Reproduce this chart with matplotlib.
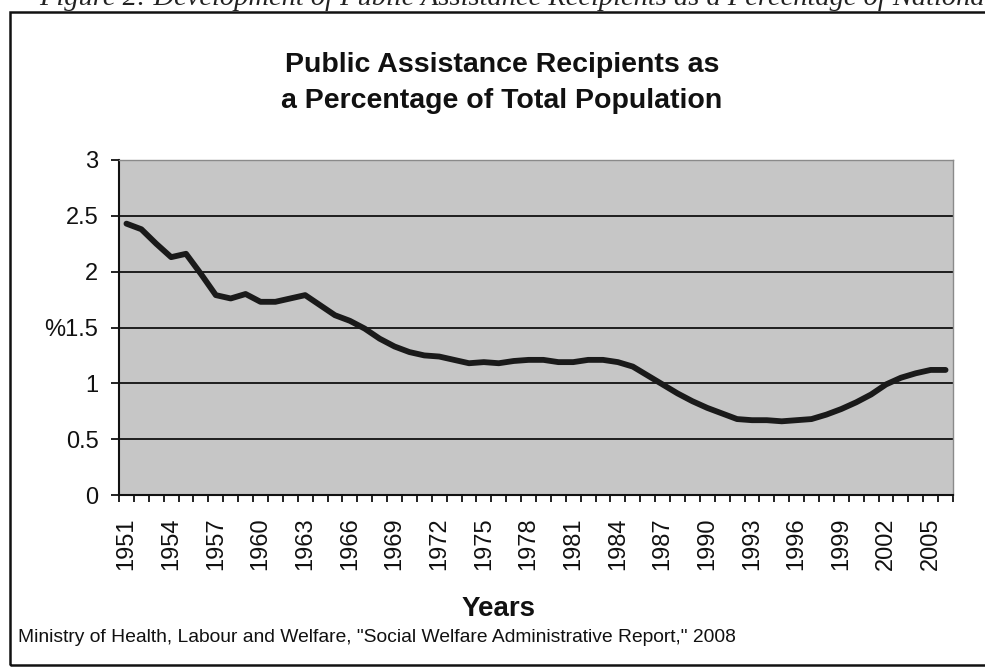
import matplotlib
matplotlib.use("Agg")
import matplotlib.pyplot as plt
from matplotlib.patches import Rectangle
from matplotlib.ticker import FixedLocator, FixedFormatter, NullFormatter
import numpy as np

years = list(range(1951, 2007))
values = [2.43, 2.38, 2.25, 2.13, 2.16, 1.98, 1.79, 1.76, 1.80, 1.73,
          1.73, 1.76, 1.79, 1.70, 1.61, 1.56, 1.49, 1.40, 1.33, 1.28,
          1.25, 1.24, 1.21, 1.18, 1.19, 1.18, 1.20, 1.21, 1.21, 1.19,
          1.19, 1.21, 1.21, 1.19, 1.15, 1.07, 0.99, 0.91, 0.84, 0.78,
          0.73, 0.68, 0.67, 0.67, 0.66, 0.67, 0.68, 0.72, 0.77, 0.83,
          0.90, 0.99, 1.05, 1.09, 1.12, 1.12]
year_labels = [str(y) for y in range(1951, 2007, 3)]
y_ticks = [0, 0.5, 1, 1.5, 2, 2.5, 3]
y_labels = ["0", "0.5", "1", "%1.5", "2", "2.5", "3"]
title = "Public Assistance Recipients as\na Percentage of Total Population"
xlabel = "Years"
source = 'Ministry of Health, Labour and Welfare, "Social Welfare Administrative Report," 2008'
caption = ("Figure 2: Development of Public Assistance Recipients "
           "as a Percentage of National Population")
caption_visible_end = "Nationa"

plt.rcParams['font.family'] = ['Liberation Sans', 'DejaVu Sans']

W, H = 985, 671
fig = plt.figure(figsize=(W / 100, H / 100), dpi=100)
fig.patch.set_facecolor("white")

# outer frame
fig.patches.append(Rectangle((10 / W, 1 - 665 / H), 1.2, (665 - 12) / H,
                             transform=fig.transFigure, fill=False,
                             edgecolor="#111111", linewidth=1.8))

# partially cut caption at the top (only its lower part shows, as in the scan)
cap_kw = dict(fontsize=20.5, style="italic",
              family=["Liberation Serif", "DejaVu Serif"], color="#222222")
renderer = fig.canvas.get_renderer()
prefix = caption[:caption.index(caption_visible_end) + len(caption_visible_end)]
tmp = fig.text(0, 0, prefix, **cap_kw)
pw = tmp.get_window_extent(renderer).width
tmp.remove()
fig.text((W - pw) / W, 1 - 5 / H, caption, ha="left", va="baseline", **cap_kw)

ax = fig.add_axes([119 / W, 1 - 495 / H, (953 - 119) / W, (495 - 160) / H])
ax.set_facecolor("#c6c6c6")

n = len(years)
x = np.arange(n)
ax.plot(x, values, color="#1a1a1a", linewidth=4.2, solid_capstyle="round",
        solid_joinstyle="round", zorder=3)

ax.set_xlim(-0.5, n - 0.5)
ax.set_ylim(0, 3)

# gridlines
for yv in y_ticks[1:-1]:
    ax.axhline(yv, color="#111111", linewidth=1.3, zorder=2)

ax.yaxis.set_major_locator(FixedLocator(y_ticks))
ax.yaxis.set_major_formatter(FixedFormatter(y_labels))
ax.tick_params(axis="y", direction="out", length=5.8, width=1.3,
               labelsize=17, pad=9, colors="#111111")

# x ticks: marks between categories, labels every 3 categories
ax.xaxis.set_major_locator(FixedLocator(np.arange(-0.5, n, 1.0)))
ax.xaxis.set_major_formatter(NullFormatter())
ax.tick_params(axis="x", which="major", direction="out", length=5, width=1.3,
               colors="#111111")
ax.xaxis.set_minor_locator(FixedLocator(np.arange(0, n, 3)))
ax.xaxis.set_minor_formatter(FixedFormatter(year_labels))
ax.tick_params(axis="x", which="minor", length=0, labelsize=17,
               labelrotation=90, pad=16, labelcolor="#111111")

for side in ["left", "bottom"]:
    ax.spines[side].set_color("#111111")
    ax.spines[side].set_linewidth(1.5)
for side in ["right", "top"]:
    ax.spines[side].set_color("#8a8a8a")
    ax.spines[side].set_linewidth(1.0)

fig.text(502 / W, 1 - 83 / H, title, ha="center", va="center",
         fontsize=20.5, fontweight="bold", linespacing=1.55, color="#111111")
fig.text(499 / W, 1 - 609 / H, xlabel, ha="center", va="center",
         fontsize=20, fontweight="bold", color="#111111")
fig.text(18 / W, 1 - 637 / H, source, ha="left", va="center",
         fontsize=13.9, color="#111111")

fig.savefig("out.png", dpi=100, facecolor="white")
